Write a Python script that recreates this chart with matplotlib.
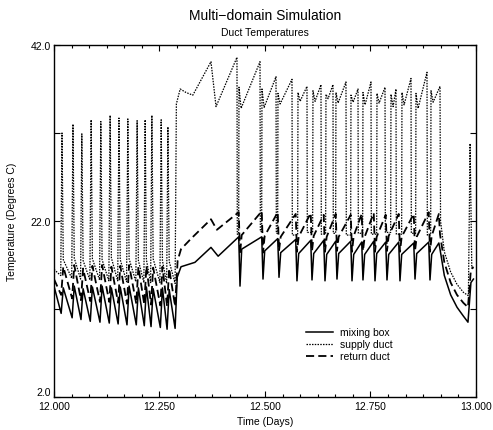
import numpy as np
import matplotlib
matplotlib.use("Agg")
import matplotlib.pyplot as plt
from matplotlib.ticker import MultipleLocator, FixedLocator, FormatStrFormatter

plt.rcParams['font.family'] = ['Liberation Sans', 'DejaVu Sans']

# start values at day 12.0
start_t = 12.0
start_supply, start_mix, start_ret = 16.5, 14.6, 15.4

# cycling period 12.00 - 12.29 (supply spikes up)
p1_t = [12.019, 12.045, 12.066, 12.088, 12.111, 12.133, 12.154,
        12.175, 12.197, 12.216, 12.232, 12.254, 12.270]
p1_supply_peak = [32.0, 33.0, 31.9, 33.5, 33.3, 34.0, 33.7, 33.6, 33.4, 33.5, 34.0, 33.5, 32.7]
p1_supply_low = [15.8, 15.5, 15.4, 15.3, 15.3, 15.2, 15.2, 15.1, 15.1, 15.0, 15.0, 15.0, 14.9]
p1_supply_after = [17.6, 17.8, 17.5, 17.7, 17.6, 17.8, 17.6, 17.7, 17.5, 17.6, 17.7, 17.5, 17.4]
p1_mix_low = [11.5, 11.0, 10.8, 10.6, 10.5, 10.4, 10.3, 10.2, 10.2, 10.1, 10.0, 9.9, 9.7]
p1_mix_high = [14.4, 14.6, 14.3, 14.5, 14.6, 14.4, 14.5, 14.6, 14.4, 14.5, 14.3, 14.4, 14.2]
p1_ret_low = [13.6, 13.2, 13.0, 12.9, 12.8, 12.8, 12.7, 12.6, 12.6, 12.5, 12.5, 12.4, 12.3]
p1_ret_high = [16.8, 17.0, 16.6, 16.9, 17.0, 16.8, 16.9, 17.0, 16.8, 16.9, 16.7, 16.8, 16.6]

# warm-up 12.29 - 12.44
p2_supply_t = [12.287, 12.290, 12.299, 12.313, 12.329, 12.372, 12.384]
p2_supply_v = [14.9, 35.3, 37.0, 36.6, 36.3, 40.1, 35.0]
p2_mix_t = [12.287, 12.292, 12.301, 12.334, 12.372, 12.389]
p2_mix_v = [9.8, 15.6, 16.8, 17.3, 19.0, 18.0]
p2_ret_t = [12.287, 12.293, 12.301, 12.325, 12.372, 12.386]
p2_ret_v = [12.3, 17.5, 18.8, 20.0, 22.2, 21.0]

# cycling period 12.44 - 12.91 (supply drops out)
p3_t = [12.4408, 12.4953, 12.5332, 12.5758, 12.6114, 12.6422, 12.6706,
        12.7062, 12.7322, 12.7607, 12.7891, 12.8199, 12.8555, 12.8910]
p3_mix_top = [20.2, 20.2, 20.0, 19.9, 19.8, 19.8, 19.7, 19.7, 19.6, 19.7, 19.6, 19.6, 19.5, 19.6]
p3_mix_low = [14.6, 15.4, 15.6, 15.2, 15.3, 15.2, 15.4, 15.2, 15.3, 15.2, 15.3, 15.2, 15.4, 15.3]
p3_mix_after = [18.8, 18.6, 18.4, 18.3, 18.3, 18.2, 18.3, 18.2, 18.2, 18.3, 18.2, 18.2, 18.3, 18.2]
p3_ret_top = [23.0, 23.1, 23.0, 22.8, 22.9, 22.7, 22.8, 22.7, 22.8, 22.9, 22.7, 22.8, 22.8, 23.0]
p3_ret_low = [18.2, 18.4, 18.6, 18.5, 18.6, 18.5, 18.6, 18.5, 18.6, 18.5, 18.6, 18.5, 18.6, 18.5]
p3_ret_after = [20.4, 20.3, 20.2, 20.2, 20.3, 20.2, 20.2, 20.3, 20.2, 20.2, 20.3, 20.2, 20.2, 20.3]
p3_sup_off = [12.4336, 12.4882, 12.5261, 12.5640, 12.5995, 12.6327, 12.6611,
              12.6919, 12.7204, 12.7512, 12.7844, 12.8104, 12.8460, 12.8839]
p3_sup_on = [12.4384, 12.4929, 12.5308, 12.5782, 12.6137, 12.6445, 12.6682,
             12.7038, 12.7322, 12.7654, 12.7986, 12.8246, 12.8578, 12.8934]
p3_sup_top = [40.6, 40.1, 38.4, 38.1, 37.3, 37.5, 37.5, 37.8, 37.0, 37.8, 37.2, 37.0, 38.2, 38.9]
p3_sup_low = [20.5, 20.8, 20.6, 20.4, 20.7, 20.5, 20.6, 20.4, 20.6, 20.5, 20.7, 20.5, 20.6, 20.4]
p3_sup_return = [37.2, 37.0, 36.5, 36.6, 36.8, 36.4, 36.6, 36.3, 36.6, 36.5, 36.4, 36.6, 36.5, 36.8]
p3_sup_dip = [34.8, 34.9, 35.3, 35.6, 35.6, 35.9, 35.4, 35.5, 35.2, 35.4, 35.0, 35.2, 34.8, 35.5]

# shut-down decay 12.91 - 13.0
p4_supply_t = [12.9147, 12.916, 12.925, 12.94, 12.955, 12.97, 12.982, 12.986, 12.990, 12.994]
p4_supply_v = [37.3, 22.0, 18.5, 16.2, 14.8, 13.9, 13.5, 30.8, 16.8, 16.5]
p4_mix_t = [12.912, 12.9147, 12.925, 12.94, 12.955, 12.97, 12.981, 12.988, 12.994]
p4_mix_v = [19.5, 18.8, 15.8, 13.6, 12.2, 11.2, 10.5, 15.0, 15.4]
p4_ret_t = [12.912, 12.9147, 12.925, 12.94, 12.955, 12.97, 12.981, 12.988, 12.994]
p4_ret_v = [22.8, 20.5, 17.3, 15.0, 13.6, 12.7, 12.2, 16.5, 16.8]

labels = ['mixing box', 'supply duct', 'return duct']


def build_supply():
    t, v = [start_t], [start_supply]
    for i, te in enumerate(p1_t):
        t += [te - 0.003, te, te + 0.003]
        v += [p1_supply_low[i], p1_supply_peak[i], p1_supply_after[i]]
    t += p2_supply_t
    v += p2_supply_v
    for i in range(len(p3_sup_off)):
        t0, t1 = p3_sup_off[i], p3_sup_on[i]
        t += [t0, t0 + 0.0008, t1 - 0.0008, t1, t1 + 0.005]
        v += [p3_sup_top[i], p3_sup_low[i], p3_sup_low[i], p3_sup_return[i], p3_sup_dip[i]]
    t += p4_supply_t
    v += p4_supply_v
    return t, v


def build_cycle(low1, high1, p2t, p2v, top3, low3, after3, p4t, p4v, s0):
    t, v = [start_t], [s0]
    for i, te in enumerate(p1_t):
        t += [te - 0.002, te + 0.003]
        v += [low1[i], high1[i]]
    t += p2t
    v += p2v
    for i, te in enumerate(p3_t):
        t += [te - 0.003, te, te + 0.004]
        v += [top3[i], low3[i], after3[i]]
    t += p4t
    v += p4v
    return t, v


mix_t, mix_v = build_cycle(p1_mix_low, p1_mix_high, p2_mix_t, p2_mix_v,
                           p3_mix_top, p3_mix_low, p3_mix_after, p4_mix_t, p4_mix_v, start_mix)
ret_t, ret_v = build_cycle(p1_ret_low, p1_ret_high, p2_ret_t, p2_ret_v,
                           p3_ret_top, p3_ret_low, p3_ret_after, p4_ret_t, p4_ret_v, start_ret)
sup_t, sup_v = build_supply()

fig = plt.figure(figsize=(4.93, 4.31), dpi=100)
ax = fig.add_axes([0.1095, 0.0766, 0.856, 0.8167])

ax.plot(mix_t, mix_v, color='black', lw=1.1, linestyle='-', label=labels[0])
ax.plot(sup_t, sup_v, color='black', lw=0.9, linestyle=(0, (1.2, 1.0)), label=labels[1])
ax.plot(ret_t, ret_v, color='black', lw=1.3, linestyle=(0, (4.5, 2.3)), label=labels[2])

ax.set_xlim(12.0, 13.0)
ax.set_ylim(2.0, 42.0)
ax.xaxis.set_major_locator(MultipleLocator(0.25))
ax.xaxis.set_minor_locator(MultipleLocator(1 / 24))
ax.xaxis.set_major_formatter(FormatStrFormatter('%.3f'))
ax.yaxis.set_major_locator(FixedLocator([2.0, 22.0, 42.0]))
ax.yaxis.set_minor_locator(FixedLocator([12.0, 32.0]))
ax.yaxis.set_major_formatter(FormatStrFormatter('%.1f'))
ax.tick_params(which='both', direction='in', top=True, right=True, labelsize=7.5, width=0.8)
ax.tick_params(which='major', length=4)
ax.tick_params(axis='x', which='major', pad=3)
ax.tick_params(axis='y', which='major', pad=2)
ax.tick_params(which='minor', length=2.5)
ax.tick_params(axis='y', which='minor', length=4)
for s in ax.spines.values():
    s.set_linewidth(1.0)

# lowest y label sits just above the axis corner, clear of "12.000"
fig.canvas.draw()
ax.get_yticklabels()[0].set_verticalalignment('bottom')

fig.text(0.5375, 0.963, 'Multi\u2212domain Simulation', ha='center', va='center', fontsize=10)
fig.text(0.5375, 0.923, 'Duct Temperatures', ha='center', va='center', fontsize=7.5)
fig.text(0.5375, 0.021, 'Time (Days)', ha='center', va='center', fontsize=7.5)
fig.text(0.025, 0.485, 'Temperature (Degrees C)', ha='center', va='center',
         rotation=90, fontsize=7.5)

ax.legend(loc='upper left', bbox_to_anchor=(0.598, 0.198), frameon=False,
          fontsize=7.5, handlelength=2.6, handletextpad=0.6, labelspacing=0.2,
          borderpad=0, borderaxespad=0)

fig.savefig('out.png', dpi=100)
